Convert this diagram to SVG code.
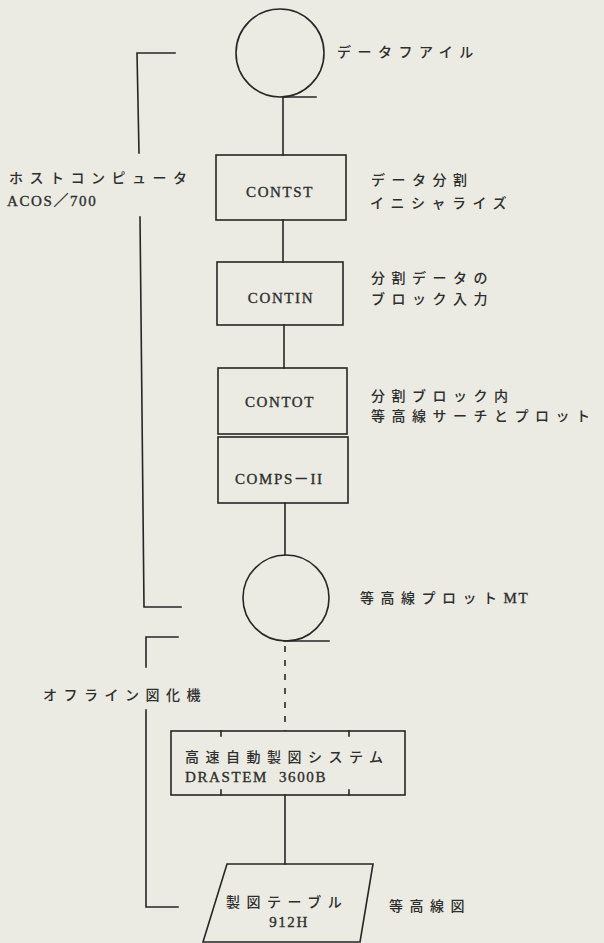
<svg xmlns="http://www.w3.org/2000/svg" width="604" height="943" viewBox="0 0 604 943">
<style>
.ln{stroke:#262626;stroke-width:1.6;fill:none;stroke-linecap:square}
.dash{stroke:#262626;stroke-width:1.6;fill:none;stroke-dasharray:6 8}
.jp{font-family:"Noto Sans CJK JP","Liberation Sans",sans-serif;font-size:14px;font-weight:500;letter-spacing:6.5px;fill:#2e2e2e}
.mono{font-family:"Liberation Serif","Noto Sans CJK JP",serif;font-size:15px;letter-spacing:1.6px;fill:#2e2e2e;stroke:#2e2e2e;stroke-width:0.35}
.node{stroke:#262626;stroke-width:1.6;fill:none}
</style>
<rect width="604" height="943" fill="#ebebe3"/>

<g id="connectors">
  <line class="ln" x1="283" y1="98" x2="283" y2="155"/>
  <line class="ln" x1="283" y1="220" x2="283" y2="262"/>
  <line class="ln" x1="284" y1="325" x2="284" y2="368"/>
  <line class="ln" x1="285" y1="503" x2="285" y2="555"/>
  <line class="dash" x1="285" y1="646" x2="285" y2="731"/>
  <line class="ln" x1="285" y1="795" x2="285" y2="864"/>
</g>

<g id="bracket-host">
  <polyline class="ln" points="175,53 137,53 139,153"/>
  <polyline class="ln" points="140,217 144,607 181,607"/>
  <text class="jp" x="9" y="183">ホストコンピュータ</text>
  <text class="mono" x="7" y="206">ACOS／700</text>
</g>

<g id="bracket-offline">
  <polyline class="ln" points="178,637 146,637 146,667"/>
  <polyline class="ln" points="146,710 146,907 178,907"/>
  <text class="jp" x="43" y="700">オフライン図化機</text>
</g>

<g id="datafile">
  <circle class="node" cx="280" cy="53" r="44"/>
  <line class="ln" x1="284" y1="97" x2="316" y2="97"/>
  <text class="jp" x="337" y="57">データフアイル</text>
</g>

<g id="contst">
  <rect class="node" x="216" y="155" width="130" height="65"/>
  <text class="mono" x="280" y="197" text-anchor="middle">CONTST</text>
  <text class="jp" x="371" y="185">データ分割</text>
  <text class="jp" x="370" y="208">イニシャライズ</text>
</g>

<g id="contin">
  <rect class="node" x="217" y="262" width="126" height="63"/>
  <text class="mono" x="281" y="303" text-anchor="middle">CONTIN</text>
  <text class="jp" x="371" y="283">分割データの</text>
  <text class="jp" x="371" y="304">ブロック入力</text>
</g>

<g id="contot">
  <rect class="node" x="218" y="368" width="129" height="66"/>
  <text class="mono" x="280" y="407" text-anchor="middle">CONTOT</text>
  <text class="jp" x="371" y="401">分割ブロック内</text>
  <text class="jp" x="371" y="421">等高線サーチとプロット</text>
</g>

<g id="comps">
  <rect class="node" x="218" y="437" width="130" height="66"/>
  <text class="mono" x="235" y="484">COMPS－II</text>
</g>

<g id="plot-mt">
  <circle class="node" cx="286" cy="598" r="43"/>
  <line class="ln" x1="284" y1="641" x2="329" y2="641"/>
  <text class="jp" x="360" y="603">等高線プロット<tspan class="mono" letter-spacing="1.6px">MT</tspan></text>
</g>

<g id="drastem">
  <rect class="node" x="171" y="731" width="234" height="64"/>
  <line class="ln" x1="221" y1="731" x2="221" y2="736"/>
  <line class="ln" x1="349" y1="731" x2="349" y2="736"/>
  <line class="ln" x1="221" y1="795" x2="221" y2="790"/>
  <line class="ln" x1="349" y1="795" x2="349" y2="790"/>
  <text class="jp" x="185" y="762">高速自動製図システム</text>
  <text class="mono" x="185" y="782">DRASTEM</text>
  <text class="mono" x="279" y="782">3600B</text>
</g>

<g id="table">
  <polygon class="node" points="227,864 373,864 360,942 203,942"/>
  <text class="jp" x="226" y="907">製図テーブル</text>
  <text class="mono" x="289" y="927" text-anchor="middle">912H</text>
  <text class="jp" x="389" y="911">等高線図</text>
</g>
</svg>
